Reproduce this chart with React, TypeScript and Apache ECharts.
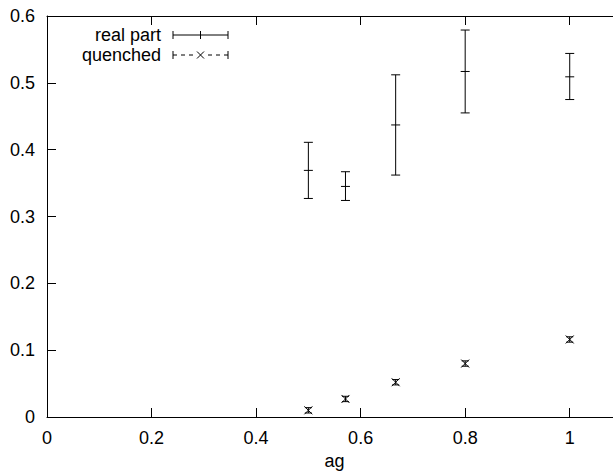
import React, { useEffect, useRef } from "react";
import * as echarts from "echarts";

const agValues = [0.5, 0.571, 0.667, 0.8, 1.0];
const realCenter = [0.369, 0.345, 0.437, 0.517, 0.509];
const realLow = [0.327, 0.324, 0.362, 0.455, 0.475];
const realHigh = [0.411, 0.367, 0.512, 0.579, 0.544];
const quenchedCenter = [0.01, 0.027, 0.052, 0.08, 0.116];
const quenchedLow = [0.006, 0.023, 0.048, 0.076, 0.112];
const quenchedHigh = [0.014, 0.031, 0.056, 0.084, 0.12];

const FONT = "'Liberation Sans', Arial, Helvetica, sans-serif";
const FS = 18;

const realIcon =
  "path://M-7 4L-7 4M0 0L0 8M0 4L55 4M55 0L55 8M27.5 0L27.5 8";
const quenchedIcon =
  "path://M-7 4L-7 4M0 0L0 8M0 4L4 4M8 4L12 4M16 4L20 4M24 0.5L31 7.5M24 7.5L31 0.5M35 4L39 4M43 4L47 4M51 4L55 4M55 0L55 8";

export default function App() {
  const ref = useRef<HTMLDivElement>(null);
  useEffect(() => {
    document.body.style.margin = "0";
    if (!ref.current) return;
    const chart = echarts.init(ref.current, null, { renderer: "svg" });
    const stroke = { stroke: "#000", lineWidth: 1, fill: "none" };

    const realData = agValues.map((x, i) => [x, realCenter[i], realLow[i], realHigh[i]]);
    const quenchedData = agValues.map((x, i) => [
      x,
      quenchedCenter[i],
      quenchedLow[i],
      quenchedHigh[i],
    ]);

    const axisLine = { show: true, lineStyle: { color: "#000", width: 1 } };
    const axisTick = { show: true, inside: true, length: 9, lineStyle: { color: "#000", width: 1 } };
    const axisLabel = { color: "#000", fontSize: FS, fontFamily: FONT, margin: 12 };

    const legendCommon = {
      right: 613 - 228.5,
      padding: 0,
      align: "right",
      itemWidth: 62,
      itemHeight: 8,
      itemStyle: { color: "transparent", borderColor: "#000", borderWidth: 1 },
      textStyle: { color: "#000", fontSize: FS, fontFamily: FONT, lineHeight: 16 },
      selectedMode: false,
    };

    chart.setOption({
      animation: false,
      backgroundColor: "#fff",
      textStyle: { fontFamily: FONT },
      grid: {
        left: 47,
        right: -9,
        top: 16,
        bottom: 56,
        containLabel: false,
        outerBoundsMode: "none",
      },
      legend: [
        { ...legendCommon, data: [{ name: "real part", icon: realIcon }], top: 26 },
        { ...legendCommon, data: [{ name: "quenched", icon: quenchedIcon }], top: 46 },
      ],
      xAxis: [
        {
          type: "value",
          min: 0,
          max: 1.1,
          interval: 0.2,
          position: "bottom",
          axisLine,
          axisTick,
          axisLabel: { ...axisLabel, showMaxLabel: false },
          splitLine: { show: false },
          name: "ag",
          nameLocation: "middle",
          nameGap: 34,
          nameTextStyle: { color: "#000", fontSize: FS, fontFamily: FONT },
        },
        {
          type: "value",
          min: 0,
          max: 1.1,
          interval: 0.2,
          position: "top",
          axisLine,
          axisTick,
          axisLabel: { show: false },
          splitLine: { show: false },
        },
      ],
      yAxis: [
        {
          type: "value",
          min: 0,
          max: 0.6,
          interval: 0.1,
          position: "left",
          axisLine,
          axisTick,
          axisLabel,
          splitLine: { show: false },
        },
      ],
      series: [
        {
          name: "real part",
          type: "custom",
          data: realData,
          encode: { x: 0, y: 1 },
          itemStyle: { color: "#000" },
          renderItem: (_params: any, api: any) => {
            const x = api.value(0);
            const c = api.coord([x, api.value(1)]);
            const l = api.coord([x, api.value(2)]);
            const h = api.coord([x, api.value(3)]);
            const w = 4.5;
            return {
              type: "group",
              children: [
                { type: "line", shape: { x1: l[0], y1: l[1], x2: h[0], y2: h[1] }, style: stroke },
                { type: "line", shape: { x1: l[0] - w, y1: l[1], x2: l[0] + w, y2: l[1] }, style: stroke },
                { type: "line", shape: { x1: h[0] - w, y1: h[1], x2: h[0] + w, y2: h[1] }, style: stroke },
                { type: "line", shape: { x1: c[0] - w, y1: c[1], x2: c[0] + w, y2: c[1] }, style: stroke },
              ],
            };
          },
        },
        {
          name: "quenched",
          type: "custom",
          data: quenchedData,
          encode: { x: 0, y: 1 },
          itemStyle: { color: "#000" },
          renderItem: (_params: any, api: any) => {
            const x = api.value(0);
            const c = api.coord([x, api.value(1)]);
            const l = api.coord([x, api.value(2)]);
            const h = api.coord([x, api.value(3)]);
            const w = 3.5;
            const m = 4;
            return {
              type: "group",
              children: [
                { type: "line", shape: { x1: l[0], y1: l[1], x2: h[0], y2: h[1] }, style: stroke },
                { type: "line", shape: { x1: l[0] - w, y1: l[1], x2: l[0] + w, y2: l[1] }, style: stroke },
                { type: "line", shape: { x1: h[0] - w, y1: h[1], x2: h[0] + w, y2: h[1] }, style: stroke },
                { type: "line", shape: { x1: c[0] - m, y1: c[1] - m, x2: c[0] + m, y2: c[1] + m }, style: stroke },
                { type: "line", shape: { x1: c[0] - m, y1: c[1] + m, x2: c[0] + m, y2: c[1] - m }, style: stroke },
              ],
            };
          },
        },
      ],
    });
    return () => chart.dispose();
  }, []);
  return <div ref={ref} style={{ width: 613, height: 473 }} />;
}
